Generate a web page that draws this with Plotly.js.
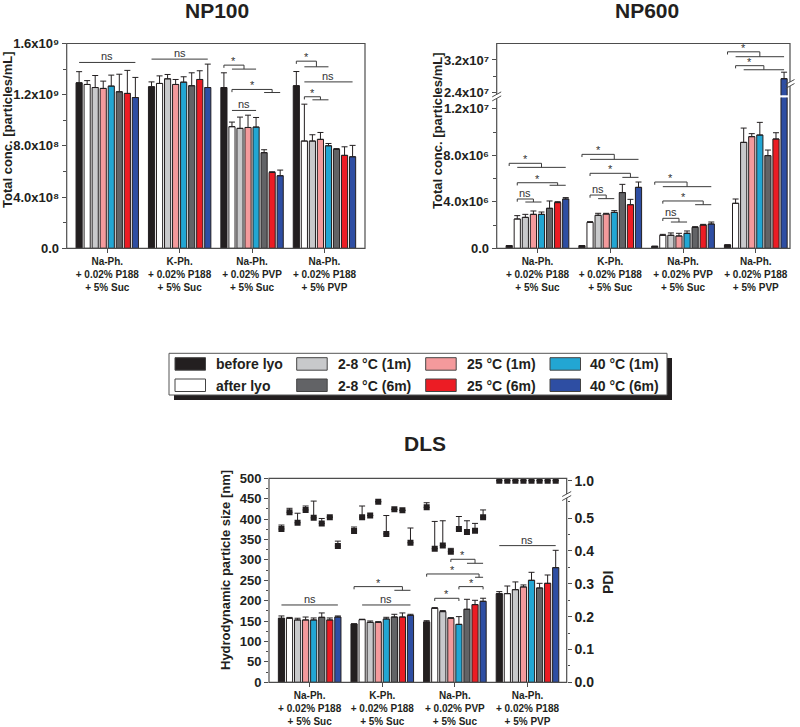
<!DOCTYPE html>
<html><head><meta charset="utf-8">
<script src="https://cdn.plot.ly/plotly-3.0.1.min.js"></script>
<style>html,body{margin:0;padding:0;background:#fff}#chart{width:800px;height:727px}</style>
</head><body><div id="chart"></div>
<script>
// ---------------- DATA ----------------
const groups = ['Na-Ph.<br>+ 0.02% P188<br>+ 5% Suc', 'K-Ph.<br>+ 0.02% P188<br>+ 5% Suc', 'Na-Ph.<br>+ 0.02% PVP<br>+ 5% Suc', 'Na-Ph.<br>+ 0.02% P188<br>+ 5% PVP'];
const seriesNames = ['before lyo', 'after lyo', '2-8 °C (1m)', '25 °C (1m)', '40 °C (1m)', '2-8 °C (6m)', '25 °C (6m)', '40 °C (6m)'];
const seriesColors = ['#231f20', '#ffffff', '#c8c9cb', '#f49a9c', '#22a6d3', '#626366', '#ec1c24', '#2e4ea3'];

// NP100 total concentration [particles/mL] (rows = series, cols = groups)
const np100Mean = [
  [1.293e9, 1.262e9, 1.256e9, 1.270e9],
  [1.280e9, 1.288e9, 0.950e9, 0.838e9],
  [1.256e9, 1.324e9, 0.937e9, 0.838e9],
  [1.249e9, 1.280e9, 0.944e9, 0.851e9],
  [1.267e9, 1.298e9, 0.947e9, 0.801e9],
  [1.223e9, 1.270e9, 0.747e9, 0.773e9],
  [1.210e9, 1.319e9, 0.593e9, 0.726e9],
  [1.178e9, 1.256e9, 0.567e9, 0.715e9]
];
const np100Err = [
  [0.087e9, 0.038e9, 0.115e9, 0.111e9],
  [0.030e9, 0.059e9, 0.036e9, 0.288e9],
  [0.094e9, 0.034e9, 0.088e9, 0.049e9],
  [0.057e9, 0.039e9, 0.096e9, 0.054e9],
  [0.086e9, 0.042e9, 0.075e9, 0.018e9],
  [0.137e9, 0.101e9, 0.023e9, 0.006e9],
  [0.180e9, 0.068e9, 0.005e9, 0.067e9],
  [0.157e9, 0.183e9, 0.044e9, 0.089e9]
];

// NP600 total concentration [particles/mL]
const np600Mean = [
  [0.23e6, 0.23e6, 0.17e6, 0.29e6],
  [2.52e6, 2.23e6, 1.12e6, 3.87e6],
  [2.66e6, 2.84e6, 1.12e6, 9.11e6],
  [2.92e6, 2.95e6, 1.06e6, 9.60e6],
  [2.92e6, 3.09e6, 1.29e6, 9.74e6],
  [3.44e6, 4.79e6, 1.80e6, 7.97e6],
  [3.93e6, 3.75e6, 2.00e6, 9.40e6],
  [4.24e6, 5.24e6, 2.09e6, 27.4e6]
];
const np600Err = [
  [null, null, null, null],
  [0.29e6, 0.06e6, 0.08e6, 0.37e6],
  [0.26e6, 0.17e6, 0.20e6, 1.23e6],
  [0.29e6, 0.06e6, 0.23e6, 0.26e6],
  [0.20e6, 0.15e6, 0.20e6, 1.09e6],
  [0.63e6, 0.71e6, 0.06e6, 0.48e6],
  [0.08e6, 0.46e6, 0.06e6, 0.54e6],
  [0.12e6, 0.46e6, 0.17e6, 1.60e6]
];

// DLS hydrodynamic size [nm]
const dlsMean = [
  [156.9, 143.0, 148.0, 217.3],
  [157.0, 153.6, 181.4, 217.3],
  [152.8, 147.0, 173.2, 227.0],
  [152.8, 147.0, 157.0, 233.7],
  [152.8, 155.2, 142.0, 250.0],
  [159.3, 160.0, 179.0, 231.2],
  [152.8, 160.0, 190.4, 242.6],
  [160.0, 164.0, 198.5, 281.0]
];
const dlsErr = [
  [5.7, null, 3.0, 4.9],
  [2.0, 1.0, 1.6, 18.7],
  [4.2, 3.3, 2.5, 19.0],
  [7.2, 1.7, 1.5, 4.9],
  [4.9, 4.1, 19.0, 19.6],
  [10.7, 6.7, 24.4, 11.4],
  [4.9, 10.0, 10.6, 20.4],
  [2.6, 2.7, 7.5, 42.5]
];

// PDI
const pdiMean = [
  [0.467, 0.461, 0.533, 1.0],
  [0.518, 0.503, 0.407, 1.0],
  [0.486, 0.508, 0.417, 1.0],
  [0.525, 0.550, 0.398, 1.0],
  [0.501, 0.452, 0.467, 1.0],
  [0.484, 0.527, 0.458, 1.0],
  [0.503, 0.524, 0.462, 1.0],
  [0.415, 0.425, 0.503, 1.0]
];
const pdiErr = [
  [0.012, 0.012, 0.014, null],
  [0.012, 0.034, 0.083, null],
  [0.029, null, 0.075, null],
  [0.012, null, 0.010, null],
  [0.051, 0.056, 0.038, null],
  [0.015, null, 0.034, null],
  [null, null, 0.022, null],
  [0.015, 0.045, 0.022, null]
];

// significance brackets: g = group, a/b = series index, y in data units
const np100Sig = [
  {t:'line', g:0, a:0, b:7, y:1.452e9, label:'ns'},
  {t:'line', g:1, a:0, b:7, y:1.478e9, label:'ns'},
  {t:'step', g:2, a:0, b1:1, b2:4, y1:1.431e9, y2:1.400e9, label:'*'},
  {t:'step', g:2, a:1, b1:5, b2:7, y1:1.241e9, y2:1.217e9, label:'*'},
  {t:'line', g:2, a:1, b:4, y:1.077e9, label:'ns'},
  {t:'step', g:3, a:0, b1:1, b2:4, y1:1.462e9, y2:1.418e9, label:'*'},
  {t:'line', g:3, a:1, b:7, y:1.300e9, label:'ns'},
  {t:'step', g:3, a:1, b1:2, b2:4, y1:1.184e9, y2:1.160e9, label:'*'}
];
const np600SigLow = [
  {t:'step', g:0, a:0, b1:1, b2:7, y1:7.31e6, y2:6.96e6, label:'*'},
  {t:'step', g:0, a:1, b1:5, b2:7, y1:5.64e6, y2:5.42e6, label:'*'},
  {t:'step', g:0, a:1, b1:2, b2:4, y1:4.24e6, y2:3.98e6, label:'ns'},
  {t:'step', g:1, a:0, b1:1, b2:7, y1:8.08e6, y2:7.65e6, label:'*'},
  {t:'step', g:1, a:1, b1:5, b2:7, y1:6.45e6, y2:6.10e6, label:'*'},
  {t:'step', g:1, a:1, b1:2, b2:4, y1:4.58e6, y2:4.27e6, label:'ns'},
  {t:'step', g:2, a:0, b1:1, b2:7, y1:5.70e6, y2:5.30e6, label:'*'},
  {t:'step', g:2, a:1, b1:5, b2:7, y1:4.07e6, y2:3.75e6, label:'*'},
  {t:'step', g:2, a:1, b1:2, b2:4, y1:2.58e6, y2:2.26e6, label:'ns'}
];
const np600SigHigh = [
  {t:'step', g:3, a:0, b1:1, b2:7, y1:3.40e7, y2:3.28e7, label:'*'},
  {t:'step', g:3, a:1, b1:2, b2:7, y1:3.06e7, y2:2.96e7, label:'*'}
];
const dlsSig = [
  {t:'line', g:0, a:0, b:7, y:189.5, label:'ns'},
  {t:'step', g:1, a:0, b1:5, b2:7, y1:234.5, y2:225.5, label:'*'},
  {t:'line', g:1, a:1, b:7, y:189.5, label:'ns'},
  {t:'step', g:2, a:3, b1:5, b2:7, y1:301.5, y2:291.7, label:'*'},
  {t:'step', g:2, a:0, b1:6, b2:7, y1:265.5, y2:257.4, label:'*'},
  {t:'both', g:2, a:1, b:4, y:205.9, label:'*'},
  {t:'both', g:2, a:4, b:7, y:234.5, label:'*'},
  {t:'line', g:3, a:0, b:7, y:335.0, label:'ns'}
];

// tick labels
const np100Ticks = [0, 0.4e9, 0.8e9, 1.2e9, 1.6e9];
const np100TickText = ['0.0', '4.0x10⁸', '8.0x10⁸', '1.2x10⁹', '1.6x10⁹'];
const np600LowTicks = [0, 4e6, 8e6, 1.2e7];
const np600LowTickText = ['0.0', '4.0x10⁶', '8.0x10⁶', '1.2x10⁷'];
const np600HighTicks = [2.4e7, 3.2e7];
const np600HighTickText = ['2.4x10⁷', '3.2x10⁷'];
const sizeTicks = [0, 50, 100, 150, 200, 250, 300, 350, 400, 450, 500];
const pdiTicks = [0, 0.1, 0.2, 0.3, 0.4, 0.5];
const pdiTickText = ['0.0', '0.1', '0.2', '0.3', '0.4', '0.5'];

// ---------------- DRAWING ----------------
const FONT = 'Liberation Sans, Arial, Helvetica, sans-serif';
const INK = '#231f20';
const AX = '#4d4d4d';
const W = 800, H = 727;
const PX = v => v / W;
const PY = v => 1 - v / H;
const STEP = 0.111, BW = 0.085;
const xpos = i => groups.map((_, g) => g + (i - 3.5) * STEP);
const clean = arr => arr.map(v => (v == null ? NaN : v));
const zeros = arr => arr.map(() => 0);

const traces = [];
function addBars(mean, err, xa, ya) {
  mean.forEach((m, i) => {
    traces.push({
      type: 'bar', name: seriesNames[i], x: xpos(i), y: m, width: BW,
      xaxis: xa, yaxis: ya, showlegend: false, hoverinfo: 'skip',
      marker: {color: seriesColors[i], line: {color: INK, width: 1}},
      error_y: {type: 'data', symmetric: false, array: clean(err[i]), arrayminus: zeros(err[i]),
                color: INK, thickness: 1, width: 3}
    });
  });
}
addBars(np100Mean, np100Err, 'x', 'y');
addBars(np600Mean, np600Err, 'x2', 'y2');
addBars(np600Mean, np600Err, 'x2', 'y3');
addBars(dlsMean, dlsErr, 'x3', 'y4');
['y5', 'y6'].forEach(ya => {
  pdiMean.forEach((m, i) => {
    traces.push({
      type: 'scatter', mode: 'markers', name: seriesNames[i] + ' PDI', x: xpos(i), y: m,
      xaxis: 'x3', yaxis: ya, showlegend: false, hoverinfo: 'skip',
      marker: {symbol: 'square', size: 6, color: INK},
      error_y: {type: 'data', symmetric: false, array: clean(pdiErr[i]), arrayminus: zeros(pdiErr[i]),
                color: INK, thickness: 1, width: 3}
    });
  });
});

const shapes = [];
const annotations = [];

function addSig(list, xref, yref, unitsPerPx) {
  const tick = 2.7 * unitsPerPx;
  const bx = (g, i) => g + (i - 3.5) * STEP;
  list.forEach(s => {
    let path, lx, ly;
    if (s.t === 'line') {
      const xa = bx(s.g, s.a), xb = bx(s.g, s.b);
      path = `M${xa},${s.y}L${xb},${s.y}`;
      lx = (xa + xb) / 2; ly = s.y;
    } else if (s.t === 'both') {
      const xa = bx(s.g, s.a), xb = bx(s.g, s.b);
      path = `M${xa},${s.y - tick}L${xa},${s.y}L${xb},${s.y}L${xb},${s.y - tick}`;
      lx = (xa + xb) / 2; ly = s.y;
    } else {
      const xa = bx(s.g, s.a), xb1 = bx(s.g, s.b1), xb2 = bx(s.g, s.b2);
      const xm = (xb1 + xb2) / 2;
      path = `M${xa},${s.y1 - tick}L${xa},${s.y1}L${xm},${s.y1}L${xm},${s.y2}M${xb1},${s.y2}L${xb2},${s.y2}`;
      lx = (xa + xm) / 2; ly = s.y1;
    }
    shapes.push({type: 'path', xref, yref, path, line: {color: '#3a3a3a', width: 1}});
    annotations.push({xref, yref, x: lx, y: ly, text: s.label, showarrow: false,
      xanchor: 'center', yanchor: 'bottom', yshift: s.label === '*' ? -4 : -2,
      font: {family: FONT, size: 11, color: '#333333'}});
  });
}
addSig(np100Sig, 'x', 'y', 1.6e9 / 204.8);
addSig(np600SigLow, 'x2', 'y2', 1e6 / 11.633);
addSig(np600SigHigh, 'x2', 'y3', 1e6 / 4.0875);
addSig(dlsSig, 'x3', 'y4', 500 / 204);

// frames
function frame(x0, x1, y0, y1) {
  shapes.push({type: 'rect', xref: 'paper', yref: 'paper', x0: PX(x0), x1: PX(x1), y0: PY(y1), y1: PY(y0),
               line: {color: AX, width: 1.2}, fillcolor: 'rgba(0,0,0,0)'});
}
function axisBreak(x, y) {
  shapes.push({type: 'rect', xref: 'paper', yref: 'paper', x0: PX(x - 2), x1: PX(x + 2), y0: PY(y + 2), y1: PY(y - 2),
               line: {width: 0}, fillcolor: '#ffffff'});
  [-2, 2].forEach(d => {
    shapes.push({type: 'line', xref: 'paper', yref: 'paper', x0: PX(x - 4.5), y0: PY(y + d + 2.5),
                 x1: PX(x + 4.5), y1: PY(y + d - 2.5), line: {color: AX, width: 1}});
  });
}
frame(66.7, 365, 43.5, 248.3);
frame(496.7, 790, 43.5, 248.3);
axisBreak(496.7, 96.4);
axisBreak(790, 84);
frame(269, 566.7, 478.3, 682.3);
axisBreak(566.7, 496);

// titles
function txt(text, x, y, size, opts) {
  annotations.push(Object.assign({xref: 'paper', yref: 'paper', x: PX(x), y: PY(y), text, showarrow: false,
    xanchor: 'center', yanchor: 'middle', font: {family: FONT, size, color: INK, weight: 'bold'}}, opts || {}));
}
txt('NP100', 217, 10, 21);
txt('NP600', 647, 10, 21);
txt('DLS', 425, 443, 21);
txt('Total conc. [particles/mL]', 8, 130, 13, {textangle: -90});
txt('Total conc. [particles/mL]', 437, 131, 13, {textangle: -90});
txt('Hydrodynamic particle size [nm]', 225, 570, 13, {textangle: -90});
txt('PDI', 608, 583, 14, {textangle: -90});

// legend (drawn box)
shapes.push({type: 'rect', xref: 'paper', yref: 'paper', x0: PX(174), x1: PX(672), y0: PY(400), y1: PY(358),
             line: {width: 0}, fillcolor: INK});
shapes.push({type: 'rect', xref: 'paper', yref: 'paper', x0: PX(169), x1: PX(667), y0: PY(395), y1: PY(353.3),
             line: {color: '#555', width: 1}, fillcolor: '#ffffff'});
const legendSlot = [[0, 0], [0, 1], [1, 0], [2, 0], [3, 0], [1, 1], [2, 1], [3, 1]];
const colSwatch = [175, 296.7, 425.7, 550];
const colText = [214.3, 336, 465, 588.3];
const rowTop = [357.7, 379];
seriesNames.forEach((n, i) => {
  const [c, r] = legendSlot[i];
  shapes.push({type: 'rect', xref: 'paper', yref: 'paper', x0: PX(colSwatch[c]), x1: PX(colSwatch[c] + 30.5),
               y0: PY(rowTop[r] + 12.5), y1: PY(rowTop[r]), fillcolor: seriesColors[i], line: {color: '#444', width: 1}});
  txt(n, colText[c], rowTop[r] + 6.5, 14, {xanchor: 'left'});
});

// axes
const tickFont = {family: FONT, size: 13, color: INK, weight: 'bold'};
const pdiTickFont = {family: FONT, size: 14, color: INK, weight: 'bold'};
const xTickFont = {family: FONT, size: 10, color: INK, weight: 'bold'};
const baseX = {tickvals: [0, 1, 2, 3], ticktext: groups, ticks: 'outside', ticklen: 4, tickcolor: AX,
               tickfont: xTickFont, showgrid: false, zeroline: false, showline: false, fixedrange: true};
const baseY = {ticks: 'outside', ticklen: 4, tickcolor: AX, tickfont: tickFont, showgrid: false,
               zeroline: false, showline: false, fixedrange: true};
const minor = vals => ({tickmode: 'array', tickvals: vals, ticks: 'outside', ticklen: 2.5, tickcolor: AX, showgrid: false});

const layout = {
  width: W, height: H, margin: {l: 0, r: 0, t: 0, b: 0},
  paper_bgcolor: '#ffffff', plot_bgcolor: 'rgba(0,0,0,0)',
  barmode: 'overlay', showlegend: false, font: {family: FONT, color: INK},
  xaxis: Object.assign({}, baseX, {domain: [PX(66.7), PX(365)], range: [-0.56, 3.56], anchor: 'y'}),
  yaxis: Object.assign({}, baseY, {domain: [PY(248.3), PY(43.5)], range: [0, 1.6e9], anchor: 'x',
    tickvals: np100Ticks, ticktext: np100TickText,
    minor: minor([0.2e9, 0.6e9, 1.0e9, 1.4e9])}),
  xaxis2: Object.assign({}, baseX, {domain: [PX(496.7), PX(790)], range: [-0.56, 3.47], anchor: 'y2'}),
  yaxis2: Object.assign({}, baseY, {domain: [PY(248.3), PY(97.6)], range: [0, 1.296e7], anchor: 'x2',
    tickvals: np600LowTicks, ticktext: np600LowTickText,
    minor: minor([2e6, 6e6, 1e7])}),
  yaxis3: Object.assign({}, baseY, {domain: [PY(95.2), PY(43.5)], range: [2.336e7, 3.604e7], anchor: 'x2',
    tickvals: np600HighTicks, ticktext: np600HighTickText,
    minor: minor([2.8e7])}),
  xaxis3: Object.assign({}, baseX, {domain: [PX(269), PX(566.7)], range: [-0.56, 3.54], anchor: 'y4'}),
  yaxis4: Object.assign({}, baseY, {domain: [PY(682.3), PY(478.3)], range: [0, 500], anchor: 'x3',
    tickvals: sizeTicks, ticktext: sizeTicks.map(String),
    minor: minor([25, 75, 125, 175, 225, 275, 325, 375, 425, 475])}),
  yaxis5: Object.assign({}, baseY, {domain: [PY(682.3), PY(497.6)], range: [0, 0.5626], anchor: 'x3', side: 'right',
    tickvals: pdiTicks, ticktext: pdiTickText, tickfont: pdiTickFont,
    minor: minor([0.05, 0.15, 0.25, 0.35, 0.45, 0.55])}),
  yaxis6: Object.assign({}, baseY, {domain: [PY(494.4), PY(478.3)], range: [0.958, 1.0073], anchor: 'x3', side: 'right',
    tickvals: [1.0], ticktext: ['1.0'], tickfont: pdiTickFont}),
  shapes, annotations
};

Plotly.newPlot('chart', traces, layout, {staticPlot: true, displayModeBar: false});
</script>
</body></html>
